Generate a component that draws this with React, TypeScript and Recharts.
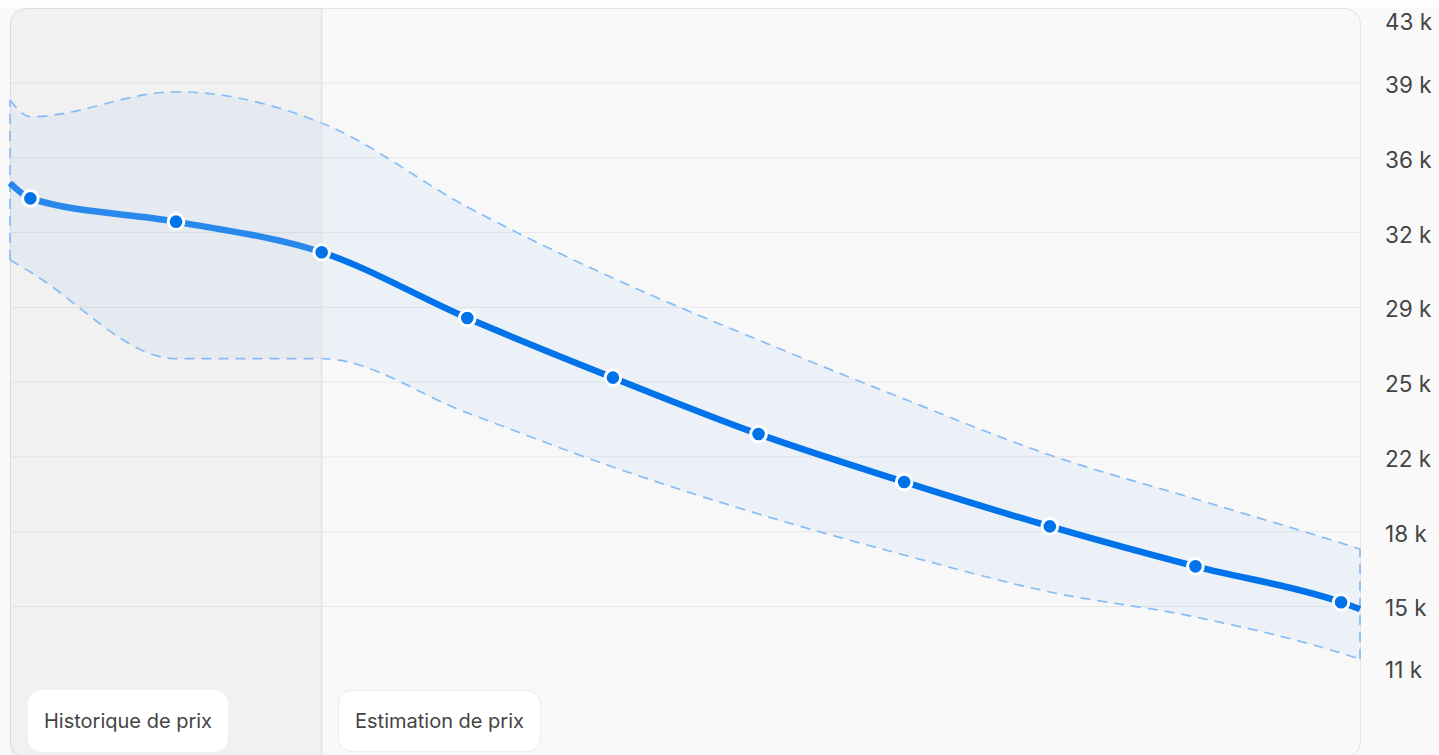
import React from "react";
import {
  ComposedChart,
  Line,
  Area,
  XAxis,
  YAxis,
  CartesianGrid,
  ReferenceArea,
  ReferenceLine,
} from "recharts";

// x positions (index units); first and last entries sit on the plot edges
const xPos = [-0.14, 0, 1, 2, 3, 4, 5, 6, 7, 8, 9, 9.13];
const price = [34620, 33900, 32810, 31380, 28300, 25510, 22870, 20630, 18550, 16680, 15000, 14680];
const upper = [38500, 37720, 38890, 37430, 33500, 30170, 27270, 24510, 21890, 19830, 17770, 17490];
const lower = [31020, 30450, 26400, 26400, 23860, 21330, 19130, 17210, 15480, 14310, 12620, 12340];
const historyEnd = 2;

const yTicks = [11920, 14800, 18300, 21800, 25300, 28800, 32300, 35800, 39300, 42250];
const yTickLabels = ["11 k", "15 k", "18 k", "22 k", "25 k", "29 k", "32 k", "36 k", "39 k", "43 k"];
const gridValues = yTicks.slice(1, -1);
const yDomain = [7850, 42810];

const data = xPos.map((x, i) => ({
  x,
  price: price[i],
  band: [lower[i], upper[i]],
}));

const last = xPos.length - 1;
const histFrac = (historyEnd - xPos[0]) / (xPos[last] - xPos[0]);

const BLUE = "#0073ea";
const BAND = "#88bcf6";
const DASH = "10 7";

const HistoryShape = (props: any) => {
  const { x, y, width, height } = props;
  const r = 15;
  const d = `M${x + width},${y} L${x + r},${y} A${r},${r} 0 0 0 ${x},${y + r} L${x},${y + height} L${x + width},${y + height} Z`;
  return <path d={d} fill="#000" fillOpacity={0.028} />;
};

const renderDot = (props: any) => {
  const { cx, cy, index } = props;
  if (index === 0 || index === last) return <g key={`d-${index}`} />;
  return <circle key={`d-${index}`} cx={cx} cy={cy} r={7.8} fill={BLUE} stroke="#fff" strokeWidth={3} />;
};

const pill: React.CSSProperties = {
  position: "absolute",
  top: 690,
  height: 62,
  background: "#fff",
  borderRadius: 14,
  boxSizing: "border-box",
  display: "flex",
  alignItems: "center",
  justifyContent: "center",
  fontSize: 20,
  color: "#444",
};

export default function App() {
  return (
    <div
      style={{
        position: "absolute",
        left: 0,
        top: 0,
        width: 1439,
        height: 755,
        background: "#f9f9f9",
        overflow: "hidden",
        fontFamily: "Inter, sans-serif",
      }}
    >
      <div style={{ position: "absolute", left: 0, top: 0, width: 1439, height: 8, background: "#fdfdfd" }} />
      <div
        style={{
          position: "absolute",
          left: 9.5,
          top: 7.5,
          width: 1351,
          height: 750,
          border: "1.5px solid #e3e3e3",
          borderRadius: 16,
          background: "#f8f8f8",
          boxSizing: "border-box",
        }}
      />
      <div style={{ position: "absolute", left: 0, top: 0 }}>
        <ComposedChart width={1439} height={755} data={data} margin={{ top: 8, right: 0, bottom: 0, left: 10 }}>
          <defs>
            <linearGradient id="histGrad" x1="0" y1="0" x2="1" y2="0">
              <stop offset={0} stopColor={BLUE} stopOpacity={0.82} />
              <stop offset={histFrac} stopColor={BLUE} stopOpacity={0.82} />
              <stop offset={histFrac} stopColor={BLUE} stopOpacity={1} />
              <stop offset={1} stopColor={BLUE} stopOpacity={1} />
            </linearGradient>
          </defs>
          <ReferenceArea x1={xPos[0]} x2={historyEnd} shape={HistoryShape} ifOverflow="visible" />
          <CartesianGrid vertical={false} horizontalValues={gridValues} stroke="#e8e8e8" />
          <ReferenceLine x={historyEnd} stroke="#e2e2e2" strokeWidth={1.5} />
          <XAxis type="number" dataKey="x" domain={[xPos[0], xPos[last]]} hide />
          <YAxis
            orientation="right"
            width={79}
            type="number"
            domain={yDomain}
            ticks={yTicks}
            interval={0}
            axisLine={false}
            tickLine={false}
            tickSize={0}
            tickMargin={25}
            tick={{ fill: "#444", fontSize: 22.5, fontFamily: "Inter", dy: 2 }}
            tickFormatter={(v: number) => yTickLabels[yTicks.indexOf(v)]}
          />
          <Area
            type="monotone"
            dataKey="band"
            fill={BLUE}
            fillOpacity={0.05}
            stroke={BAND}
            strokeWidth={1.7}
            strokeDasharray={DASH}
            dot={false}
            activeDot={false}
            isAnimationActive={false}
          />
          <ReferenceLine
            segment={[{ x: xPos[0], y: lower[0] }, { x: xPos[0], y: upper[0] }]}
            stroke={BAND}
            strokeWidth={1.7}
            strokeDasharray={DASH}
            ifOverflow="visible"
          />
          <ReferenceLine
            segment={[{ x: xPos[last], y: lower[last] }, { x: xPos[last], y: upper[last] }]}
            stroke={BAND}
            strokeWidth={1.7}
            strokeDasharray={DASH}
            ifOverflow="visible"
          />
          <Line
            type="monotone"
            dataKey="price"
            stroke="url(#histGrad)"
            strokeWidth={6.5}
            dot={renderDot}
            activeDot={false}
            isAnimationActive={false}
          />
        </ComposedChart>
      </div>
      <div style={{ ...pill, left: 28, width: 200 }}>Historique de prix</div>
      <div style={{ ...pill, left: 338, width: 203, border: "1.5px solid #ededed" }}>Estimation de prix</div>
    </div>
  );
}
